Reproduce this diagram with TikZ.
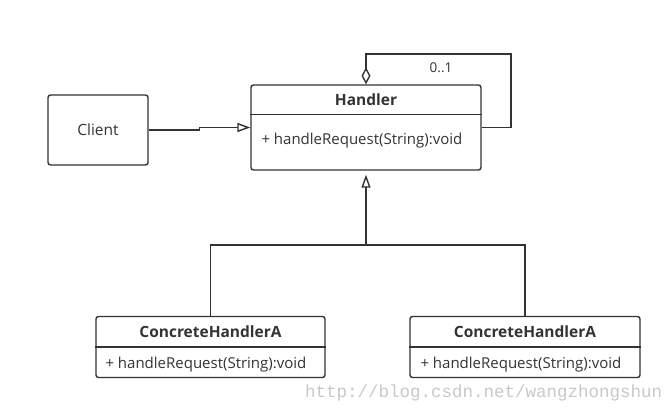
\documentclass[tikz,border=0pt]{standalone}
\usepackage{fontspec}
\setmainfont{Open Sans}
\newfontfamily\markfont{Liberation Mono}
\definecolor{umlline}{RGB}{51, 51, 51}
\definecolor{umlmark}{RGB}{200, 200, 200}
\usetikzlibrary{arrows.meta,positioning,calc}

\begin{document}
\begin{tikzpicture}[x=1pt,y=1pt,
			line/.style={draw=umlline,line width=1.4pt},
			box/.style={rectangle,draw=umlline,line width=1.4pt,rounded corners=2.5pt,inner sep=0pt},
			title/.style={font=\fontsize{15.5}{17}\selectfont\bfseries,text=umlline},
			member/.style={font=\fontsize{15}{17}\selectfont,text=umlline,anchor=west,inner sep=0pt},
			inherit/.style={-{Triangle[open,length=13pt,width=9pt]}},
			aggr/.style={{Diamond[open,length=17pt,width=9pt]}-}]
	\useasboundingbox (0,0) rectangle (672,-409);
	% classes
	\node[box,minimum width=230pt,minimum height=85pt] (handler) at (366,-127.5) {};
	\node[box,minimum width=100pt,minimum height=70pt] (client) at (98,-130) {};
	\node[box,minimum width=229pt,minimum height=61pt] (conA) at (210.5,-347) {};
	\node[box,minimum width=230pt,minimum height=61pt] (conB) at (525,-347) {};
	% compartments
	\draw[line] ($(handler.north west)+(0,-30)$) -- ($(handler.north east)+(0,-30)$);
	\draw[line] ($(conA.north west)+(0,-31)$) -- ($(conA.north east)+(0,-31)$);
	\draw[line] ($(conB.north west)+(0,-31)$) -- ($(conB.north east)+(0,-31)$);
	% texts
	\node[title] (handlerName) at ($(handler.north)+(0,-15)$) {Handler};
	\node[member] (handlerOp) at ($(handler.west)+(11,-13.5)$) {+ handleRequest(String):void};
	\node[font=\fontsize{15.5}{17}\selectfont,text=umlline] (clientName) at (client) {Client};
	\node[title] (conAName) at ($(conA.north)+(0,-15.5)$) {ConcreteHandlerA};
	\node[member] (conAOp) at ($(conA.west)+(10,-18)$) {+ handleRequest(String):void};
	\node[title] (conBName) at ($(conB.north)+(0,-15.5)$) {ConcreteHandlerA};
	\node[member] (conBOp) at ($(conB.west)+(11,-18)$) {+ handleRequest(String):void};
	% connectors
	\coordinate (jog) at ($(client.east)!0.5!(handler.west |- client.east)$);
	\draw[line,inherit] (client.east) -- (jog) |- (handler.west);
	\coordinate (loop) at (511,-54);
	\draw[line,aggr] (handler.north) |- (loop) |- (handler.east);
	\node[font=\fontsize{13.5}{15}\selectfont,text=umlline] (mult) at (441,-68) {0..1};
	\coordinate (fork) at (366,-245);
	\draw[line,inherit,shorten >=4pt] (fork) -- (handler.south);
	\draw[line] (conA.north) |- (fork) -| (conB.north);
	% watermark
	\node[font=\markfont\fontsize{17.5}{19}\selectfont,text=umlmark,anchor=base west,inner sep=0pt] (mark) at (305,-397) {http://blog.csdn.net/wangzhongshun};
\end{tikzpicture}
\end{document}
